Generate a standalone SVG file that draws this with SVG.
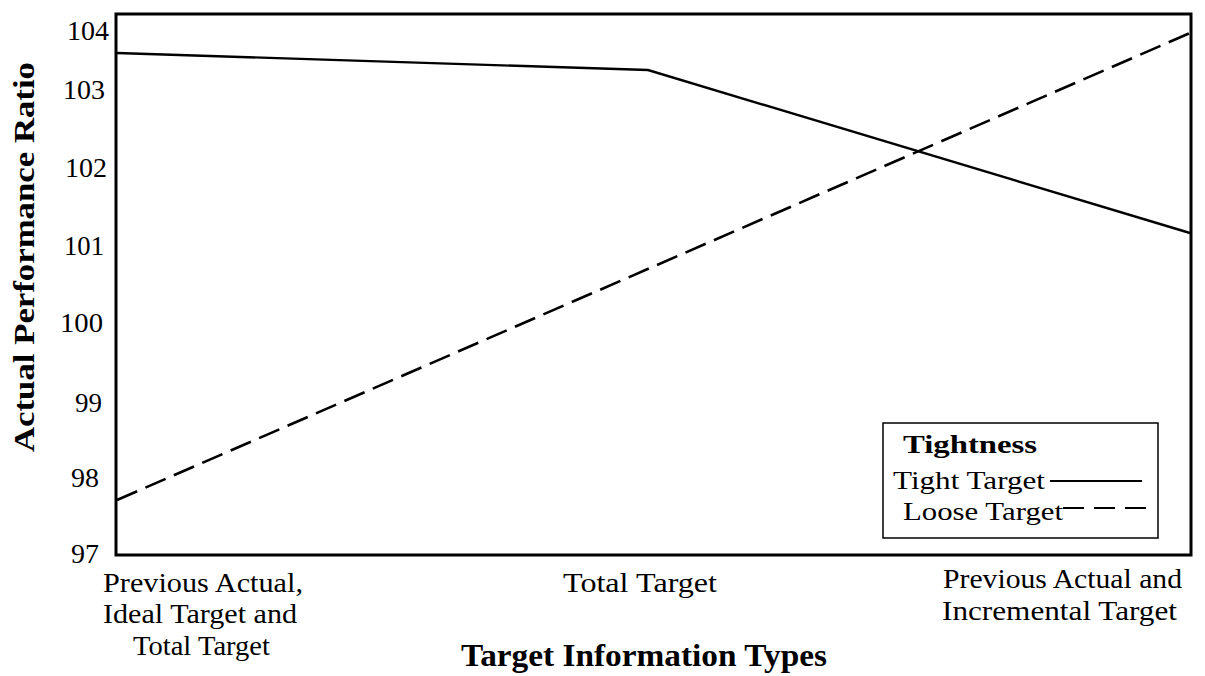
<svg xmlns="http://www.w3.org/2000/svg" width="1205" height="676" viewBox="0 0 1205 676">
<style>
.t{font-family:"Liberation Serif","Times New Roman",serif;fill:#000}
.tick{font-size:27px;text-anchor:end}
.cat{font-size:28px}
.b{font-weight:bold}
.leg{font-size:26px}
</style>
<rect width="1205" height="676" fill="#fff"/>
<g id="frame">
<rect x="116" y="14" width="1075" height="541" fill="none" stroke="#000" stroke-width="3"/>
</g>
<g id="yticks" class="t tick">
<text x="109" y="40" textLength="42" lengthAdjust="spacingAndGlyphs">104</text>
<text x="105" y="99" textLength="42" lengthAdjust="spacingAndGlyphs">103</text>
<text x="107" y="177" textLength="42" lengthAdjust="spacingAndGlyphs">102</text>
<text x="104" y="255" textLength="40" lengthAdjust="spacingAndGlyphs">101</text>
<text x="103" y="332" textLength="43" lengthAdjust="spacingAndGlyphs">100</text>
<text x="102" y="412" textLength="27" lengthAdjust="spacingAndGlyphs">99</text>
<text x="99" y="487" textLength="28" lengthAdjust="spacingAndGlyphs">98</text>
<text x="99" y="563" textLength="28" lengthAdjust="spacingAndGlyphs">97</text>
</g>
<g id="ytitle">
<text class="t b" font-size="30" transform="translate(34,452) rotate(-90)" textLength="390" lengthAdjust="spacingAndGlyphs">Actual Performance Ratio</text>
</g>
<g id="xcats" class="t cat">
<text x="103" y="592" textLength="200" lengthAdjust="spacingAndGlyphs">Previous Actual,</text>
<text x="103" y="623" textLength="194" lengthAdjust="spacingAndGlyphs">Ideal Target and</text>
<text x="133" y="655" textLength="137" lengthAdjust="spacingAndGlyphs">Total Target</text>
<text x="563" y="592" textLength="154" lengthAdjust="spacingAndGlyphs">Total Target</text>
<text x="943" y="588" textLength="239" lengthAdjust="spacingAndGlyphs">Previous Actual and</text>
<text x="942" y="620" textLength="235" lengthAdjust="spacingAndGlyphs">Incremental Target</text>
</g>
<g id="xtitle">
<text class="t b" x="461" y="666" font-size="31" textLength="366" lengthAdjust="spacingAndGlyphs">Target Information Types</text>
</g>
<g id="connectors" fill="none" stroke="#000">
<polyline id="tight" points="117,53 648,70 1190,233" stroke-width="2.4"/>
<line id="loose" x1="117" y1="500" x2="1190" y2="33" stroke-width="2.6" stroke-dasharray="22 9"/>
</g>
<g id="legend">
<rect x="883" y="423" width="275" height="115" fill="#fff" stroke="#000" stroke-width="1.5"/>
<text class="t b leg" x="903" y="453" textLength="134" lengthAdjust="spacingAndGlyphs">Tightness</text>
<text class="t leg" x="893" y="489" textLength="152" lengthAdjust="spacingAndGlyphs">Tight Target</text>
<text class="t leg" x="903" y="520" textLength="160" lengthAdjust="spacingAndGlyphs">Loose Target</text>
<line x1="1050" y1="481" x2="1142" y2="481" stroke="#000" stroke-width="2"/>
<line x1="1063" y1="508" x2="1152" y2="508" stroke="#000" stroke-width="2" stroke-dasharray="21 10"/>
</g>
</svg>
